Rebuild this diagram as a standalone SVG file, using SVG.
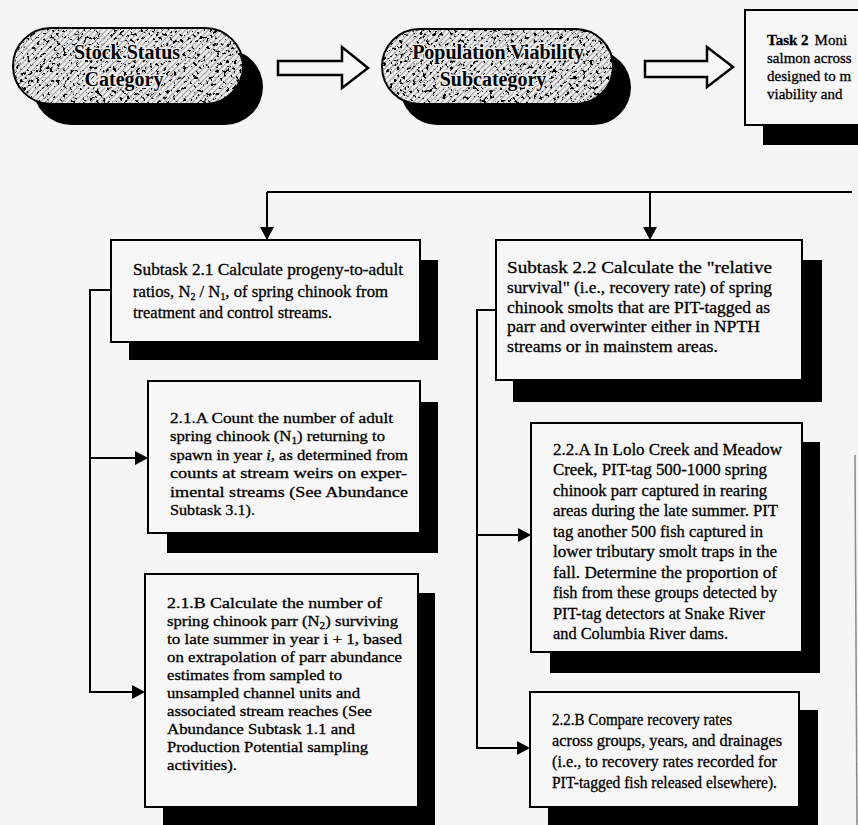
<svg xmlns="http://www.w3.org/2000/svg" width="858" height="825" viewBox="0 0 858 825">
<style>
.bg{fill:#f5f5f5}
.box{fill:#f7f7f7;stroke:#000;stroke-width:2}
.sh{fill:#000}
.ln{fill:none;stroke:#000;stroke-width:2}
.t{font-family:"Liberation Serif","Times New Roman",serif;font-size:15px;fill:#000;stroke:#000;stroke-width:0.3}
.tm{font-size:16.5px}
.ts{font-size:17px}
.pt{font-family:"Liberation Serif","Times New Roman",serif;font-size:20px;font-weight:bold;fill:#000;stroke:#eeeeee;stroke-width:3;paint-order:stroke;text-anchor:middle}
.pill{fill:url(#hatch);filter:url(#speckle)}
.po{fill:none;stroke:#000;stroke-width:2}
.barrow{fill:#f7f7f7;stroke:#000;stroke-width:2.5;stroke-linejoin:miter}
</style>
<defs>
<pattern id="hatch" width="4" height="4" patternUnits="userSpaceOnUse" patternTransform="rotate(45)">
<rect width="4" height="4" fill="#ececec"/>
<line x1="0" y1="0" x2="0" y2="4" stroke="#555" stroke-width="1"/>
</pattern>
<filter id="speckle" x="0" y="0" width="100%" height="100%">
<feTurbulence type="fractalNoise" baseFrequency="0.3" numOctaves="3" seed="7" result="n"/>
<feColorMatrix in="n" type="matrix" values="0 0 0 0 0  0 0 0 0 0  0 0 0 0 0  14 0 0 0 -8.1" result="dots"/>
<feComposite in="dots" in2="SourceGraphic" operator="in" result="d"/>
<feMerge><feMergeNode in="SourceGraphic"/><feMergeNode in="d"/></feMerge>
</filter>
<marker id="ah" markerUnits="userSpaceOnUse" markerWidth="14" markerHeight="14" viewBox="0 0 14 14" refX="11" refY="7" orient="auto">
<path d="M0,0 L13,7 L0,14 Z" fill="#000"/>
</marker>
</defs>
<rect class="bg" x="0" y="0" width="858" height="825"/>

<g id="stock-status">
<rect class="sh" x="33" y="49" width="230" height="76" rx="38"/>
<rect class="pill" x="13" y="28" width="230" height="76" rx="38"/>
<rect class="po" x="13" y="28" width="230" height="76" rx="38"/>
<text class="pt" x="127" y="59">Stock Status</text>
<text class="pt" x="124" y="86">Category</text>
</g>

<g id="arrow-1">
<polygon class="barrow" points="278,61 342,61 342,47 368,68 342,88 342,75 278,75"/>
</g>

<g id="population-viability">
<rect class="sh" x="400" y="50" width="231" height="75" rx="37.5"/>
<rect class="pill" x="382" y="29" width="231" height="75" rx="37.5"/>
<rect class="po" x="382" y="29" width="231" height="75" rx="37.5"/>
<text class="pt" x="498" y="59">Population Viability</text>
<text class="pt" x="493" y="86">Subcategory</text>
</g>

<g id="arrow-2">
<polygon class="barrow" points="645,61 707,61 707,47 733,67 707,87 707,77 645,77"/>
</g>

<g id="task-2">
<rect class="sh" x="763" y="125" width="110" height="20"/>
<rect class="box" x="745" y="10" width="130" height="115"/>
<text class="t" x="767" y="45"><tspan font-weight="bold">Task 2</tspan><tspan dx="6">Moni</tspan></text>
<text class="t" x="767" y="63">salmon  across</text>
<text class="t" x="767" y="81">designed to m</text>
<text class="t" x="767" y="99">viability and</text>
</g>

<g id="connectors">
<polyline class="ln" points="267,192 852,192"/>
<line class="ln" x1="267" y1="192" x2="267" y2="238" marker-end="url(#ah)"/>
<line class="ln" x1="650" y1="192" x2="650" y2="238" marker-end="url(#ah)"/>
<polyline class="ln" points="111,290 90,290 90,692"/>
<line class="ln" x1="89" y1="458" x2="146" y2="458" marker-end="url(#ah)"/>
<line class="ln" x1="89" y1="692" x2="143" y2="692" marker-end="url(#ah)"/>
<polyline class="ln" points="496,310 477,310 477,748"/>
<line class="ln" x1="476" y1="535" x2="529" y2="535" marker-end="url(#ah)"/>
<line class="ln" x1="476" y1="748" x2="528" y2="748" marker-end="url(#ah)"/>
</g>

<g id="subtask-2-1">
<rect class="sh" x="129" y="260" width="309" height="100"/>
<rect class="box" x="111" y="240" width="309" height="102"/>
<text class="t ts" x="133" y="275" textLength="270" lengthAdjust="spacingAndGlyphs">Subtask 2.1  Calculate progeny-to-adult</text>
<text class="t ts" x="133" y="297" textLength="255" lengthAdjust="spacingAndGlyphs">ratios, N<tspan font-size="10" dy="3">2</tspan><tspan dy="-3"> / N</tspan><tspan font-size="10" dy="3">1</tspan><tspan dy="-3">, of spring chinook from</tspan></text>
<text class="t ts" x="133" y="318" textLength="199" lengthAdjust="spacingAndGlyphs">treatment and control streams.</text>
</g>

<g id="task-2-1-a">
<rect class="sh" x="167" y="402" width="271" height="151"/>
<rect class="box" x="148" y="381" width="272" height="152"/>
<text class="t" x="170" y="423" textLength="223" lengthAdjust="spacingAndGlyphs">2.1.A  Count the number of adult</text>
<text class="t" x="170" y="441" textLength="215" lengthAdjust="spacingAndGlyphs">spring chinook (N<tspan font-size="10" dy="3">1</tspan><tspan dy="-3">) returning to</tspan></text>
<text class="t" x="170" y="460" textLength="238" lengthAdjust="spacingAndGlyphs">spawn in year <tspan font-style="italic">i</tspan>, as determined from</text>
<text class="t" x="170" y="478" textLength="237" lengthAdjust="spacingAndGlyphs">counts at stream weirs on exper-</text>
<text class="t" x="170" y="497" textLength="238" lengthAdjust="spacingAndGlyphs">imental streams (See Abundance</text>
<text class="t" x="170" y="515" textLength="85" lengthAdjust="spacingAndGlyphs">Subtask 3.1).</text>
</g>

<g id="task-2-1-b">
<rect class="sh" x="163" y="593" width="272" height="240"/>
<rect class="box" x="145" y="574" width="273" height="233"/>
<text class="t" x="167" y="608" textLength="215" lengthAdjust="spacingAndGlyphs">2.1.B  Calculate the number of</text>
<text class="t" x="167" y="626" textLength="231" lengthAdjust="spacingAndGlyphs">spring chinook parr (N<tspan font-size="10" dy="3">2</tspan><tspan dy="-3">) surviving</tspan></text>
<text class="t" x="167" y="644" textLength="235" lengthAdjust="spacingAndGlyphs">to late summer in year i + 1, based</text>
<text class="t" x="167" y="662" textLength="235" lengthAdjust="spacingAndGlyphs">on extrapolation of parr abundance</text>
<text class="t" x="167" y="680" textLength="175" lengthAdjust="spacingAndGlyphs">estimates from sampled to</text>
<text class="t" x="167" y="698" textLength="193" lengthAdjust="spacingAndGlyphs">unsampled channel units and</text>
<text class="t" x="167" y="716" textLength="205" lengthAdjust="spacingAndGlyphs">associated stream reaches (See</text>
<text class="t" x="167" y="734" textLength="188" lengthAdjust="spacingAndGlyphs">Abundance Subtask 1.1 and</text>
<text class="t" x="167" y="752" textLength="201" lengthAdjust="spacingAndGlyphs">Production Potential sampling</text>
<text class="t" x="167" y="770" textLength="70" lengthAdjust="spacingAndGlyphs">activities).</text>
</g>

<g id="subtask-2-2">
<rect class="sh" x="513" y="260" width="309" height="142"/>
<rect class="box" x="496" y="240" width="306" height="140"/>
<text class="t ts" x="507" y="273" textLength="265" lengthAdjust="spacingAndGlyphs">Subtask 2.2  Calculate the "relative</text>
<text class="t ts" x="507" y="293" textLength="265" lengthAdjust="spacingAndGlyphs">survival" (i.e., recovery rate) of spring</text>
<text class="t ts" x="507" y="313" textLength="263" lengthAdjust="spacingAndGlyphs">chinook smolts that are PIT-tagged as</text>
<text class="t ts" x="507" y="332" textLength="253" lengthAdjust="spacingAndGlyphs">parr and overwinter either in NPTH</text>
<text class="t ts" x="507" y="352" textLength="211" lengthAdjust="spacingAndGlyphs">streams or in mainstem areas.</text>
</g>

<g id="task-2-2-a">
<rect class="sh" x="550" y="442" width="270" height="231"/>
<rect class="box" x="531" y="423" width="271" height="229"/>
<text class="t tm" x="553" y="455" textLength="229" lengthAdjust="spacingAndGlyphs">2.2.A  In Lolo Creek and Meadow</text>
<text class="t tm" x="553" y="475" textLength="214" lengthAdjust="spacingAndGlyphs">Creek, PIT-tag 500-1000 spring</text>
<text class="t tm" x="553" y="496" textLength="214" lengthAdjust="spacingAndGlyphs">chinook parr captured in rearing</text>
<text class="t tm" x="553" y="516" textLength="225" lengthAdjust="spacingAndGlyphs">areas during the late summer.  PIT</text>
<text class="t tm" x="553" y="537" textLength="210" lengthAdjust="spacingAndGlyphs">tag another 500 fish captured in</text>
<text class="t tm" x="553" y="557" textLength="224" lengthAdjust="spacingAndGlyphs">lower tributary smolt traps in the</text>
<text class="t tm" x="553" y="578" textLength="224" lengthAdjust="spacingAndGlyphs">fall.  Determine the proportion of</text>
<text class="t tm" x="553" y="598" textLength="224" lengthAdjust="spacingAndGlyphs">fish from these groups detected by</text>
<text class="t tm" x="553" y="619" textLength="212" lengthAdjust="spacingAndGlyphs">PIT-tag detectors at Snake River</text>
<text class="t tm" x="553" y="639" textLength="175" lengthAdjust="spacingAndGlyphs">and Columbia River dams.</text>
</g>

<g id="task-2-2-b">
<rect class="sh" x="548" y="710" width="270" height="123"/>
<rect class="box" x="530" y="692" width="269" height="115"/>
<text class="t tm" x="552" y="725" textLength="180" lengthAdjust="spacingAndGlyphs">2.2.B  Compare recovery rates</text>
<text class="t tm" x="552" y="746" textLength="230" lengthAdjust="spacingAndGlyphs">across groups, years, and drainages</text>
<text class="t tm" x="552" y="767" textLength="225" lengthAdjust="spacingAndGlyphs">(i.e., to recovery rates recorded for</text>
<text class="t tm" x="552" y="788" textLength="225" lengthAdjust="spacingAndGlyphs">PIT-tagged fish released elsewhere).</text>
</g>

<line x1="855" y1="455" x2="857" y2="825" stroke="#8a8a8a" stroke-width="1.5"/>
</svg>
